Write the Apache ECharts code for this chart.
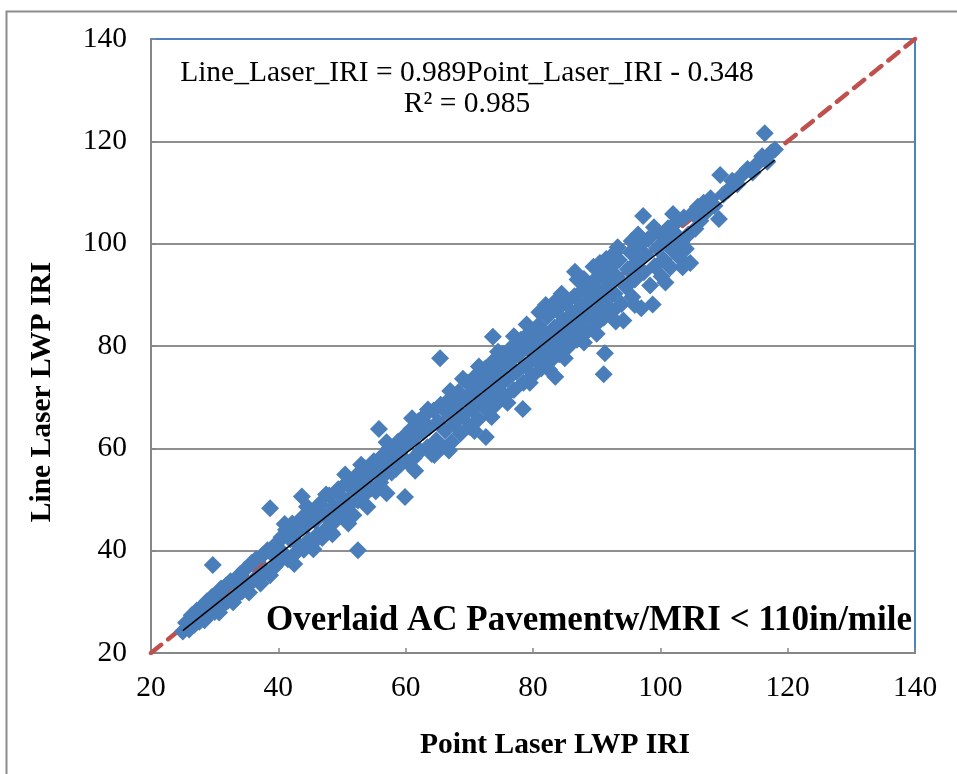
<!DOCTYPE html>
<html>
<head>
<meta charset="utf-8">
<script src="https://cdn.jsdelivr.net/npm/echarts@6/dist/echarts.min.js"></script>
<style>
  html, body { margin: 0; padding: 0; background: #fff; }
  #chart { width: 957px; height: 774px; }
</style>
</head>
<body>
<div id="chart"></div>
<script>
// Point laser IRI (x) vs line laser IRI (y), left wheel path, in/mile
const pointLaserIRI = [
  25.0, 25.5, 26.0, 26.4, 26.8, 27.2, 27.6, 28.0, 28.4, 28.8, 29.2, 29.6, 29.7, 30.0, 30.3, 30.7,
  31.0, 31.4, 31.8, 32.1, 32.5, 32.9, 33.2, 33.6, 34.0, 34.3, 34.7, 35.0, 35.4, 35.8, 36.1, 36.5,
  36.9, 37.2, 37.6, 38.0, 38.3, 38.7, 38.7, 39.0, 39.4, 39.8,
  40.1, 40.5, 40.8, 41.2, 41.5, 41.9, 42.2, 42.6, 43.0, 43.3, 43.7, 43.7, 44.0, 44.4, 44.8, 45.1,
  45.5, 45.8, 46.2, 46.5, 46.9, 47.2, 47.6, 48.0, 48.3, 48.7, 49.0, 49.4, 49.7, 50.1, 50.4, 50.8,
  51.1, 51.5, 51.8, 52.2, 52.5, 52.5, 52.9, 53.2, 53.6, 53.9, 54.3, 54.6, 55.0, 55.3, 55.7, 55.8,
  56.0, 56.4, 56.7, 57.1, 57.4, 57.8, 58.1, 58.5, 58.8, 59.2, 59.5, 59.9, 59.9,
  60.2, 60.6, 60.9, 61.3, 61.6, 62.0, 62.3, 62.7, 63.0, 63.4, 63.7, 64.1, 64.4, 64.8, 65.1, 65.4,
  65.5, 65.8, 66.2, 66.5, 66.9, 67.2, 67.6, 67.9, 68.3, 68.6, 69.0, 69.3, 69.7, 70.0, 70.4, 70.7,
  71.1, 71.4, 71.8, 72.1, 72.5, 72.6, 72.8, 73.2, 73.5, 73.7, 73.9, 74.2, 74.6, 74.9, 75.3, 75.6,
  76.0, 76.3, 76.7, 77.0, 77.4, 77.7, 78.1, 78.4, 78.5, 78.8, 79.2, 79.5, 79.9, 80.2, 80.6, 80.9,
  81.3, 81.6, 82.0, 82.0, 82.3, 82.7, 83.0, 83.4, 83.5, 83.7, 84.1, 84.4, 84.5, 84.8, 85.1, 85.5,
  85.8, 86.2, 86.6, 86.5, 86.9, 87.0, 87.2, 87.6, 87.9, 88.3, 88.6, 89.0, 89.3, 89.5, 89.7, 90.0,
  90.4, 90.7, 91.1, 91.3, 91.1, 91.4, 91.5, 91.8, 92.1, 92.5, 92.8, 93.2, 93.3, 93.5, 93.9, 94.2,
  94.6, 94.9, 95.3, 95.5, 95.6, 96.0, 96.3, 96.7, 97.0, 97.3, 97.4, 97.7, 98.1, 98.4, 98.8, 99.1,
  99.5, 99.8,
  100.2, 100.5, 100.9, 101.2, 101.6, 101.9, 102.3, 102.6, 103.0, 103.3, 103.7, 104.0, 104.4, 104.7, 105.1, 105.5,
  105.9, 106.3, 106.8, 107.3, 107.9, 108.5, 109.2, 109.4, 109.9, 110.6, 111.3, 112.1, 112.9, 113.7, 114.5, 115.3,
  116.0, 116.4, 116.8, 117.4, 118.0,
  // sections read along the upper edge of the cloud
  41.0, 44.5, 47.5, 50.5, 53.0, 57.0, 61.0, 63.5, 67.0, 69.0, 71.5, 74.5, 77.0, 79.0, 81.0, 83.5,
  88.0, 90.5, 92.8, 96.5, 99.0, 102.0,
  // sections read along the lower edge of the cloud
  42.5, 45.5, 48.5, 51.0, 54.0, 57.0, 61.5, 64.5, 66.8, 70.8, 73.5, 76.0, 79.5, 82.5, 85.0, 88.0,
  90.0, 93.0, 96.0, 100.8, 103.5
];
const lineLaserIRI = [
  24.2, 25.9, 24.6, 27.4, 25.5, 28.3, 26.1, 29.0, 26.4, 30.1, 27.6, 31.0, 37.2, 28.0, 30.8, 27.9,
  32.6, 29.5, 33.2, 30.2, 34.0, 29.9, 33.6, 31.4, 35.4, 32.0, 36.2, 33.1, 31.8, 37.6, 34.2, 38.3,
  35.0, 33.6, 39.2, 36.0, 40.1, 48.3, 35.2, 39.4, 36.8, 41.5,
  37.8, 42.6, 39.5, 44.1, 38.3, 42.2, 45.3, 39.4, 43.8, 41.0, 50.6, 46.4, 40.2, 44.9, 42.1, 47.7,
  41.6, 45.8, 43.2, 49.1, 42.5, 47.0, 44.4, 50.8, 43.6, 48.6, 45.9, 52.0, 46.8, 50.3, 47.4, 53.3,
  48.9, 52.1, 46.9, 54.6, 40.1, 49.8, 53.4, 50.7, 56.1, 51.4, 55.0, 52.2, 57.5, 51.6, 56.2, 63.8,
  53.3, 58.6, 54.9, 57.4, 60.0, 55.3, 58.8, 56.0, 61.3, 56.9, 59.9, 50.5, 62.5,
  57.4, 61.2, 63.8, 58.1, 62.4, 65.3, 59.5, 63.2, 66.4, 60.2, 64.1, 58.9, 67.4, 61.6, 65.2, 77.6,
  68.5, 60.3, 63.5, 67.0, 69.6, 61.2, 64.8, 68.4, 71.0, 62.9, 66.3, 69.8, 72.8, 64.2, 67.6, 71.2,
  74.3, 65.7, 69.1, 72.6, 75.6, 62.2, 67.4, 70.5, 74.0, 81.8, 77.2, 68.6, 72.1, 75.4, 78.5, 70.2,
  73.6, 76.9, 79.8, 71.4, 74.9, 78.3, 81.2, 67.7, 72.8, 76.1, 79.5, 82.7, 74.2, 77.5, 80.9, 84.1,
  75.6, 78.8, 82.3, 88.0, 85.8, 77.0, 80.2, 83.6, 74.0, 87.0, 78.4, 81.6, 90.2, 85.0, 88.4, 79.8,
  83.0, 86.4, 94.5, 89.7, 81.2, 93.0, 84.4, 87.8, 91.0, 82.6, 85.9, 89.2, 92.4, 95.5, 84.0, 87.3,
  90.6, 93.9, 85.5, 78.6, 74.5, 88.7, 97.0, 92.0, 95.3, 86.8, 90.2, 93.5, 99.3, 96.8, 88.2, 85.0,
  91.6, 95.0, 98.3, 100.5, 89.6, 93.0, 96.4, 99.6, 87.4, 105.4, 94.4, 97.8, 100.9, 91.8, 88.1, 95.6,
  99.1, 102.1,
  93.6, 96.9, 100.5, 103.0, 95.4, 98.7, 102.0, 104.3, 97.3, 100.2, 105.1, 99.0, 101.8, 96.2, 106.0, 102.9,
  107.2, 104.5, 108.0, 106.3, 108.9, 107.4, 104.8, 113.4, 109.6, 110.4, 112.3, 111.6, 113.5, 114.6, 113.9, 115.7,
  117.1, 121.6, 116.0, 117.8, 118.4,
  // upper edge
  45.2, 48.6, 51.0, 54.9, 56.8, 61.2, 65.9, 67.6, 71.2, 73.6, 76.0, 78.9, 81.9, 84.2, 86.6, 88.7,
  93.1, 96.2, 98.2, 101.8, 103.2, 105.8,
  // lower edge
  37.4, 40.3, 43.2, 45.3, 48.6, 51.2, 55.6, 58.7, 59.6, 63.4, 66.1, 68.9, 72.8, 75.4, 77.6, 80.7,
  82.4, 84.8, 88.0, 92.4, 95.4
];

// Regression reported on the chart
const fitSlope = 0.989;
const fitIntercept = -0.348;
const rSquared = 0.985;

// Axis ticks (both axes share the same range)
const axisTicks = [20, 40, 60, 80, 100, 120, 140];

const serif = "'Liberation Serif', 'Times New Roman', serif";
const axisGray = '#868686';
const gridGray = '#8f8f8f';
const frameBlue = '#4f81bd';

const scatterData = pointLaserIRI.map((x, i) => [x, lineLaserIRI[i]]);
const xMin = Math.min(...pointLaserIRI);
const xMax = Math.max(...pointLaserIRI);
const fitData = [
  [xMin, fitSlope * xMin + fitIntercept],
  [xMax, fitSlope * xMax + fitIntercept]
];
const lo = axisTicks[0];
const hi = axisTicks[axisTicks.length - 1];
const step = axisTicks[1] - axisTicks[0];
const equalityData = [[lo, lo], [hi, hi]];

const chart = echarts.init(document.getElementById('chart'), null, { renderer: 'canvas' });

chart.setOption({
  animation: false,
  backgroundColor: '#ffffff',
  grid: { left: 151, top: 39, right: 42, bottom: 121, containLabel: false },
  xAxis: [
    {
      type: 'value', min: lo, max: hi, interval: step, position: 'bottom',
      axisLine: { lineStyle: { color: axisGray, width: 2 } },
      axisTick: { inside: true, length: 5, lineStyle: { color: axisGray, width: 1.5 } },
      splitLine: { show: false },
      axisLabel: { color: '#000', fontFamily: serif, fontSize: 29.5, margin: 20 }
    },
    {
      type: 'value', min: lo, max: hi, position: 'top',
      axisLine: { lineStyle: { color: frameBlue, width: 2 } },
      axisTick: { show: false }, axisLabel: { show: false }, splitLine: { show: false }
    }
  ],
  yAxis: [
    {
      type: 'value', min: lo, max: hi, interval: step, position: 'left',
      axisLine: { lineStyle: { color: axisGray, width: 2 } },
      axisTick: { inside: true, length: 5, lineStyle: { color: axisGray, width: 1.5 } },
      splitLine: { show: true, lineStyle: { color: gridGray, width: 2 } },
      axisLabel: { color: '#000', fontFamily: serif, fontSize: 29.5, margin: 24 }
    },
    {
      type: 'value', min: lo, max: hi, position: 'right',
      axisLine: { lineStyle: { color: frameBlue, width: 2 } },
      axisTick: { show: false }, axisLabel: { show: false }, splitLine: { show: false }
    }
  ],
  series: [
    {
      name: 'Line of equality', type: 'line', data: equalityData,
      showSymbol: false, symbol: 'none',
      lineStyle: { color: '#c0504d', width: 4.5, type: [13, 9], cap: 'round' },
      z: 1
    },
    {
      name: 'IRI', type: 'scatter', data: scatterData,
      symbol: 'diamond', symbolSize: 18,
      itemStyle: { color: '#4a7ebb', opacity: 1 },
      z: 2
    },
    {
      name: 'Linear fit', type: 'line', data: fitData,
      showSymbol: false, symbol: 'none',
      lineStyle: { color: '#000000', width: 1.5 },
      z: 4
    }
  ],
  graphic: [
    {
      type: 'rect', left: 4, top: 9, z: 0,
      shape: { width: 990, height: 800 },
      style: { fill: 'none', stroke: '#8c8c8c', lineWidth: 2 }
    },
    {
      type: 'text', x: 467, y: 73, z: 10,
      style: {
        text: 'Line_Laser_IRI = ' + fitSlope.toFixed(3) + 'Point_Laser_IRI - ' + Math.abs(fitIntercept).toFixed(3),
        font: '29.5px ' + serif, fill: '#000', textAlign: 'center', textVerticalAlign: 'middle'
      }
    },
    {
      type: 'text', x: 467, y: 104, z: 10,
      style: {
        text: 'R\u00B2 = ' + rSquared.toFixed(3),
        font: '29.5px ' + serif, fill: '#000', textAlign: 'center', textVerticalAlign: 'middle'
      }
    },
    {
      type: 'text', x: 912, y: 621, z: 10,
      style: {
        text: 'Overlaid AC Pavementw/MRI < 110in/mile',
        font: 'bold 35px ' + serif, fill: '#000', textAlign: 'right', textVerticalAlign: 'middle'
      }
    },
    {
      type: 'text', x: 555, y: 745, z: 10,
      style: {
        text: 'Point Laser LWP IRI',
        font: 'bold 29.5px ' + serif, fill: '#000', textAlign: 'center', textVerticalAlign: 'middle'
      }
    },
    {
      type: 'text', x: 42, y: 392, rotation: Math.PI / 2, z: 10,
      style: {
        text: 'Line Laser LWP IRI',
        font: 'bold 29.5px ' + serif, fill: '#000', textAlign: 'center', textVerticalAlign: 'middle'
      }
    }
  ]
});
</script>
</body>
</html>
